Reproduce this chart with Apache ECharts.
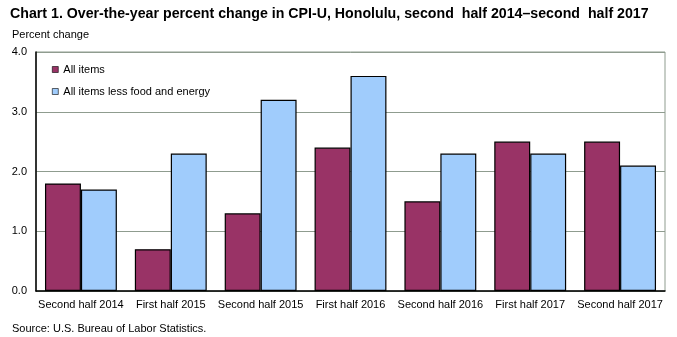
<!DOCTYPE html>
<html><head><meta charset="utf-8">
<script src="https://cdn.jsdelivr.net/npm/echarts@6/dist/echarts.min.js"></script>
<style>html,body{margin:0;padding:0;background:#fff}#c{width:677px;height:337px}</style>
</head><body><div id="c"></div>
<script>
var categories = ["Second half 2014","First half 2015","Second half 2015","First half 2016","Second half 2016","First half 2017","Second half 2017"];
var allItems = [1.8, 0.7, 1.3, 2.4, 1.5, 2.5, 2.5];
var coreItems = [1.7, 2.3, 3.2, 3.6, 2.3, 2.3, 2.1];
var seriesNames = ["All items","All items less food and energy"];
var yTicks = [0, 1, 2, 3, 4];
var titleText = "Chart 1. Over-the-year percent change in CPI-U, Honolulu, second  half 2014\u2013second  half 2017";
var font = "Liberation Sans, Arial, sans-serif";
var chart = echarts.init(document.getElementById('c'), null, {renderer:'canvas'});
chart.setOption({
  animation:false,
  backgroundColor:'#fff',
  title:[
    {text:titleText, left:5, top:2, textStyle:{fontFamily:font, fontSize:14.2, fontWeight:'bold', color:'#000'}},
    {text:"Percent change", left:7, top:24, textStyle:{fontFamily:font, fontSize:11, fontWeight:'normal', color:'#000'}},
    {text:"Source: U.S. Bureau of Labor Statistics.", left:7, top:318, textStyle:{fontFamily:font, fontSize:11, fontWeight:'normal', color:'#000'}}
  ],
  legend:{orient:'vertical', left:47, top:59, itemWidth:6, itemHeight:6, itemGap:11,
    itemStyle:{borderWidth:0.6, borderColor:'#000'},
    textStyle:{fontFamily:font, fontSize:11, color:'#000'},
    data:seriesNames.map(function(n){return {name:n, icon:'rect'};})},
  grid:{left:36, right:12, top:52, bottom:46, show:true, borderColor:'#8f9c8f', borderWidth:1},
  xAxis:{type:'category', data:categories,
    axisLine:{lineStyle:{color:'#000', width:1.5}}, axisTick:{show:false},
    axisLabel:{fontFamily:font, fontSize:11, color:'#000', margin:8, interval:0}},
  yAxis:{type:'value', min:yTicks[0], max:yTicks[yTicks.length-1], interval:1,
    axisLine:{show:true, lineStyle:{color:'#000', width:1.5}}, axisTick:{show:false},
    axisLabel:{fontFamily:font, fontSize:11, color:'#000', margin:9, formatter:function(v){return v.toFixed(1);}},
    splitLine:{lineStyle:{color:'#8f9c8f', width:1}}},
  series:[
    {name:seriesNames[0], type:'bar', data:allItems, barGap:'0%', barCategoryGap:'20%',
      itemStyle:{color:'#993366', borderColor:'#000', borderWidth:1.2}},
    {name:seriesNames[1], type:'bar', data:coreItems, barGap:'0%', barCategoryGap:'20%',
      itemStyle:{color:'#a0ccfc', borderColor:'#000', borderWidth:1.2}}
  ]
});
</script></body></html>
